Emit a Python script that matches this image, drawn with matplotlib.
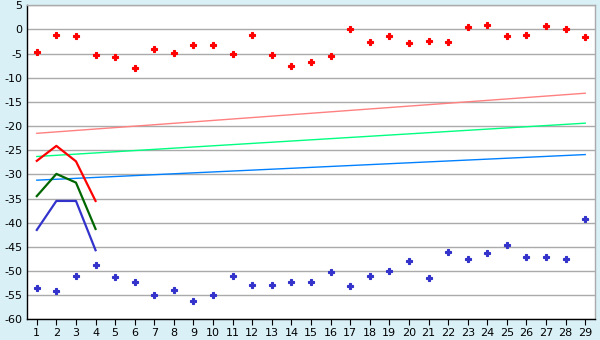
import matplotlib.pyplot as plt

plt.rcParams['axes.unicode_minus'] = False

# data
x = list(range(1, 30))
red_pts = [-4.6, -1.25, -1.45, -5.2, -5.8, -7.9, -4.0, -4.8, -3.3,
           -3.3, -5.15, -1.25, -5.2, -7.5, -6.7, -5.4, 0.0, -2.5, -1.45,
           -2.9, -2.3, -2.5, 0.6, 1.0, -1.45, -1.05, 0.8, 0.0, -1.65]
blue_pts = [-53.6, -54.2, -51.1, -48.8, -51.3, -52.3, -55.0, -54.0, -56.3,
            -55.0, -51.1, -53.0, -53.0, -52.3, -52.3, -50.3, -53.2, -51.1, -50.1,
            -48.0, -51.5, -46.1, -47.6, -46.3, -44.7, -47.2, -47.2, -47.6, -39.3]

x_short = [1, 2, 3, 4]
red_line = [-27.2, -24.1, -27.3, -35.5]
green_line = [-34.5, -29.9, -31.7, -41.3]
blue_line = [-41.5, -35.5, -35.5, -45.7]

# trend lines (start and end values)
x_trend = [1, 29]
pink_trend = [-21.5, -13.2]
lgreen_trend = [-26.3, -19.4]
lblue_trend = [-31.2, -25.9]

bg = '#d9f0f7'
fig = plt.figure(figsize=(6, 3.4), dpi=100, facecolor=bg)
ax = fig.add_axes([27 / 600, 20.7 / 340, 568 / 600, 314 / 340])
ax.set_facecolor('white')

# trend lines
ax.plot(x_trend, pink_trend, color='#ff8080', lw=1.0)
ax.plot(x_trend, lgreen_trend, color='#00ff80', lw=1.0)
ax.plot(x_trend, lblue_trend, color='#0080ff', lw=1.0)

# short lines
ax.plot(x_short, red_line, color='#ff0000', lw=1.6)
ax.plot(x_short, green_line, color='#006600', lw=1.6)
ax.plot(x_short, blue_line, color='#3333cc', lw=1.6)

# points
ax.plot(x, red_pts, ls='none', marker='P', ms=5, color='#ff0000', mew=0.8)
ax.plot(x, blue_pts, ls='none', marker='P', ms=5, color='#3333cc', mew=0.8)

ax.set_xlim(0.5, 29.5)
ax.set_ylim(-60, 5)
ax.set_xticks(x)
ax.set_yticks(range(-60, 6, 5))
ax.grid(axis='y', color='#aaaaaa', lw=1.0)
ax.set_axisbelow(True)

for s in ['top', 'right']:
    ax.spines[s].set_color('#aaaaaa')
for s in ['left', 'bottom']:
    ax.spines[s].set_color('#000000')
for s in ax.spines.values():
    s.set_linewidth(1.0)

ax.tick_params(axis='x', direction='out', length=4, labelsize=8, pad=2)
ax.tick_params(axis='y', direction='out', length=0, labelsize=8, pad=3.5)

fig.savefig('out.png', dpi=100, facecolor=bg)
